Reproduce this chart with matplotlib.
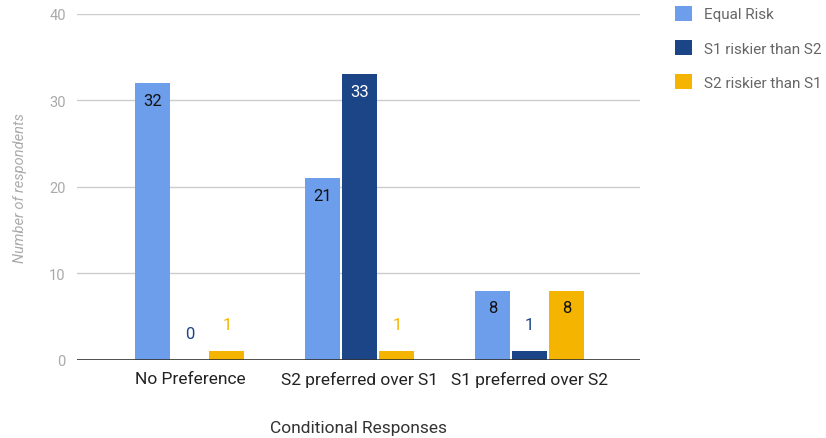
import numpy as np
import matplotlib.pyplot as plt

plt.rcParams['font.family'] = ['Roboto', 'DejaVu Sans']

categories = ['No Preference', 'S2 preferred over S1', 'S1 preferred over S2']
series = ['Equal Risk', 'S1 riskier than S2', 'S2 riskier than S1']
equal_risk = [32, 21, 8]
s1_riskier = [0, 33, 1]
s2_riskier = [1, 1, 8]
colors = ['#6d9eeb', '#1c4587', '#f4b400']
inside_text = ['#111111', '#ffffff', '#111111']

fig = plt.figure(figsize=(8.26, 4.39), dpi=100)
ax = fig.add_axes([0.093, 0.178, 0.682, 0.788])

x = np.arange(len(categories))
width = 0.206
step = 0.218
for i, (name, vals) in enumerate(zip(series, [equal_risk, s1_riskier, s2_riskier])):
    pos = x + (i - 1) * step
    ax.bar(pos, vals, width, color=colors[i], label=name, zorder=3)
    for p, v in zip(pos, vals):
        if v >= 5:
            ax.text(p, v - 2.0, str(v), ha='center', va='center',
                    fontsize=12, color=inside_text[i], zorder=4)
        else:
            ax.text(p, v + 3.1, str(v), ha='center', va='center',
                    fontsize=12, color=colors[i], zorder=4)

ax.set_xlim(-0.665, 2.65)
ax.set_ylim(0, 40)
ax.set_yticks([0, 10, 20, 30, 40])
ax.yaxis.grid(True, color='#cccccc', linewidth=1, zorder=0)
ax.axhline(0, color='#333333', linewidth=1.2, zorder=5)
for s in ax.spines.values():
    s.set_visible(False)
ax.tick_params(axis='y', length=0, labelsize=10.5, labelcolor='#aaaaaa', pad=8)
ax.tick_params(axis='x', length=0, labelsize=12.5, labelcolor='#222222', pad=8)
ax.set_xticks(x)
ax.set_xticklabels(categories)
ax.set_ylabel('Number of respondents', fontsize=10.5, color='#aaaaaa',
              style='italic', labelpad=16)
ax.set_xlabel('Conditional Responses', fontsize=12.5, color='#333333', labelpad=24)

fig.legend(loc='upper left', bbox_to_anchor=(0.8, 1.016), frameon=False,
           fontsize=11, labelcolor='#666666', handlelength=1.15,
           handleheight=1.15, labelspacing=1.2, handletextpad=0.75)

fig.savefig('out.png', dpi=100)
